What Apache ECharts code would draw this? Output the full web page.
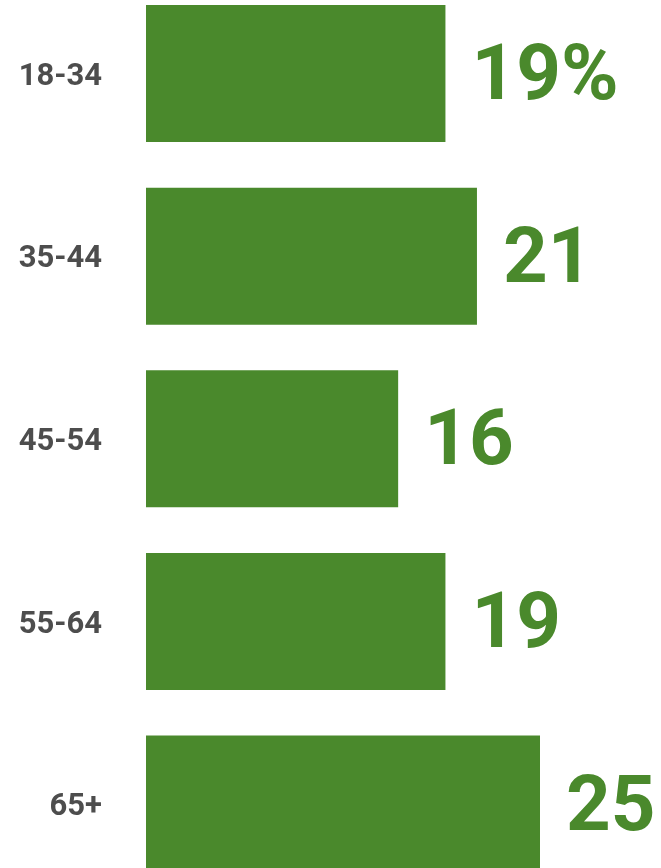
<!DOCTYPE html>
<html>
<head>
<meta charset="utf-8">
<script src="https://cdn.jsdelivr.net/npm/echarts@6/dist/echarts.min.js"></script>
<style>
  html, body { margin: 0; padding: 0; background: #ffffff; }
  #chart { width: 661px; height: 868px; }
</style>
</head>
<body>
<div id="chart"></div>
<script>
// Age groups and their shares (percent)
const ageGroups = ['18-34', '35-44', '45-54', '55-64', '65+'];
const shares = [19, 21, 16, 19, 25];
const valueLabels = ['19%', '21', '16', '19', '25'];

const GREEN = '#4a892c';
const GREY = '#4d4d4d';

const chart = echarts.init(document.getElementById('chart'), null, { renderer: 'canvas' });

chart.setOption({
  animation: false,
  backgroundColor: '#ffffff',
  grid: {
    left: 146,
    right: 42.2,
    top: -17.7,
    height: 913,
    outerBoundsMode: 'none',
    containLabel: false
  },
  xAxis: {
    type: 'value',
    min: 0,
    max: 30,
    show: false
  },
  yAxis: {
    type: 'category',
    data: ageGroups,
    inverse: true,
    axisLine: { show: false },
    axisTick: { show: false },
    splitLine: { show: false },
    axisLabel: {
      margin: 44,
      formatter: (v) => '{age|' + v + '}',
      rich: {
        age: {
          color: GREY,
          fontFamily: 'Roboto',
          fontWeight: 'bold',
          fontSize: 31,
          padding: [7, 0, 0, 0]
        }
      }
    }
  },
  series: [{
    type: 'bar',
    data: shares,
    barWidth: 137,
    itemStyle: { color: GREEN },
    label: {
      show: true,
      position: 'right',
      distance: 26,
      offset: [0, 6],
      color: GREEN,
      fontFamily: 'Roboto',
      fontWeight: 'bold',
      fontSize: 78,
      formatter: (p) => valueLabels[p.dataIndex]
    }
  }]
});
</script>
</body>
</html>
